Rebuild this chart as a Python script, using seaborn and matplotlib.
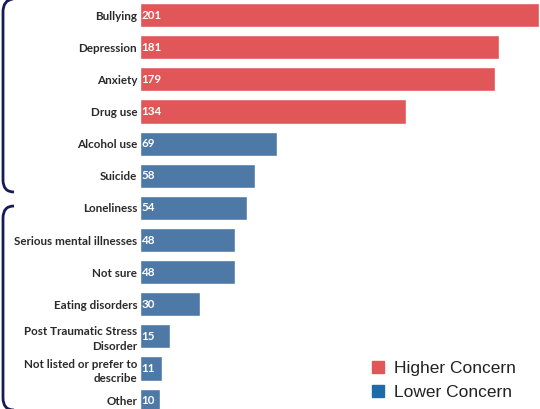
import matplotlib
matplotlib.use('Agg')
import matplotlib.pyplot as plt
from matplotlib.path import Path
from matplotlib.patches import PathPatch
from matplotlib.lines import Line2D
import seaborn as sns
import pandas as pd

categories = ['Bullying', 'Depression', 'Anxiety', 'Drug use', 'Alcohol use', 'Suicide',
              'Loneliness', 'Serious mental illnesses', 'Not sure', 'Eating disorders',
              'Post Traumatic Stress\nDisorder', 'Not listed or prefer to\ndescribe', 'Other']
counts = [201, 181, 179, 134, 69, 58, 54, 48, 48, 30, 15, 11, 10]
groups = ['Higher Concern'] * 4 + ['Lower Concern'] * 9

red = '#E15759'
blue = '#4E79A7'

df = pd.DataFrame({'issue': categories, 'count': counts, 'group': groups})

sns.set_style('white')
plt.rcParams['font.family'] = ['Lato', 'DejaVu Sans']

fig = plt.figure(figsize=(5.4, 4.09), dpi=100)
ax = fig.add_axes([140 / 540, 0, 400 / 540, 1])

sns.barplot(data=df, y='issue', x='count', hue='group', orient='h',
            palette={'Higher Concern': red, 'Lower Concern': blue},
            width=0.75, dodge=False, legend=False, ax=ax, saturation=1)

ax.set_xlim(0, 201.5)
ax.set_ylim(12.26, -0.47)
ax.set_xlabel('')
ax.set_ylabel('')
ax.set_xticks([])
sns.despine(ax=ax, left=True, bottom=True)
ax.tick_params(axis='y', length=0, pad=2)
for lbl in ax.get_yticklabels():
    lbl.set_fontweight('bold')
    lbl.set_fontsize(8.4)
    lbl.set_color('#2a2a2a')
    lbl.set_horizontalalignment('right')
    lbl.set_multialignment('right')
    lbl.set_linespacing(1.35)

for i, v in enumerate(counts):
    ax.annotate(str(v), xy=(0, i), xytext=(1.2, 0), textcoords='offset points',
                va='center', ha='left', color='white', fontweight='bold', fontsize=8.4)

# brackets on the left
navy = '#161a5a'
def px(x, y):
    return (x / 540, 1 - y / 409)

top = Path([px(13, -1), px(3, 0), px(3, 12), px(3, 180), px(3, 192), px(14, 192)],
           [Path.MOVETO, Path.CURVE3, Path.CURVE3, Path.LINETO, Path.CURVE3, Path.CURVE3])
bot = Path([px(14, 206), px(3, 206), px(3, 218), px(3, 398), px(3, 410), px(14, 410)],
           [Path.MOVETO, Path.CURVE3, Path.CURVE3, Path.LINETO, Path.CURVE3, Path.CURVE3])
for p in (top, bot):
    fig.patches.append(PathPatch(p, transform=fig.transFigure, fill=False,
                                 edgecolor=navy, linewidth=2.0))

handles = [Line2D([], [], marker='s', linestyle='', color=red, markersize=8),
           Line2D([], [], marker='s', linestyle='', color='#1F6BA8', markersize=8)]
fig.legend(handles, ['Higher Concern', 'Lower Concern'], loc='upper left',
           bbox_to_anchor=px(354, 345), frameon=False, handletextpad=0.4,
           labelspacing=0.55, prop={'family': 'Liberation Sans', 'size': 12.5},
           labelcolor='#222222', handlelength=1.0)

fig.savefig('out.png', dpi=100)
